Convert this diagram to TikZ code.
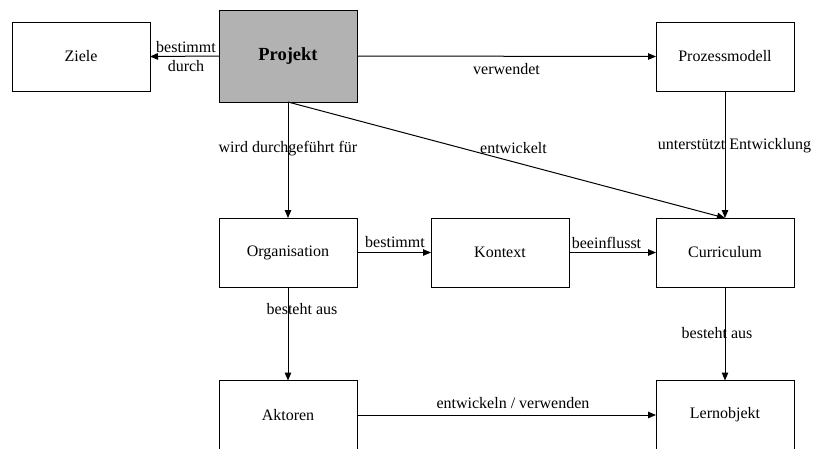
\documentclass[tikz,border=0pt]{standalone}
\usepackage{fontspec}
\setmainfont{Liberation Serif}
\usetikzlibrary{arrows.meta}

\tikzset{
  box/.style={draw=black, line width=1pt, fill=white, minimum width=138pt,
    minimum height=69pt, inner sep=0pt, outer sep=0pt,
    font=\fontsize{16}{19}\selectfont},
  mainbox/.style={box, minimum height=92pt, fill=black!30,
    font=\fontsize{18.5}{22}\selectfont\bfseries},
  conn/.style={draw=black, line width=1pt, -{Triangle[length=8pt,width=6.5pt]}},
  lbl/.style={inner sep=0pt, font=\fontsize{16}{19}\selectfont, align=center}
}

\begin{document}
\begin{tikzpicture}[x=1pt, y=-1pt]
  \useasboundingbox (0,0) rectangle (813,448);

  % boxes
  \node[box]     (ziele)   at (81,56.5)  {Ziele};
  \node[mainbox] (projekt) at (288,56)   {Projekt};
  \node[box]     (prozess) at (725,56.5) {Prozessmodell};
  \node[box]     (org)     at (288,252.5) {Organisation};
  \node[box]     (kontext) at (500,252.5) {Kontext};
  \node[box]     (curr)    at (725,252.5) {Curriculum};
  \node[box]     (akt)     at (288,415)  {Aktoren};
  \node[box]     (lern)    at (725,415)  {Lernobjekt};

  % connectors
  \draw[conn] (projekt.west) -- node[lbl, midway, xshift=1.5pt] (l1) {bestimmt\\durch} (ziele.east);
  \draw[conn] (projekt.east) -- node[lbl, midway, yshift=-13pt] (l2) {verwendet} (prozess.west);
  \draw[conn] (projekt.south) -- node[lbl, pos=0.405] (l3) {wird durchgeführt für} (org.north);
  \draw[conn] (projekt.south) -- node[lbl, pos=0.516, yshift=13.9pt] (l4) {entwickelt} (curr.north);
  \draw[conn] (prozess.south) -- node[lbl, pos=0.433, xshift=9.5pt] (l5) {unterstützt Entwicklung} (curr.north);
  \draw[conn] (org.east) -- node[lbl, midway, xshift=1pt, yshift=10pt] (l6) {bestimmt} (kontext.west);
  \draw[conn] (kontext.east) -- node[lbl, midway, xshift=-6pt, yshift=10pt] (l7) {beeinflusst} (curr.west);
  \draw[conn] (org.south) -- node[lbl, pos=0.24, xshift=14pt] (l8) {besteht aus} (akt.north);
  \draw[conn] (curr.south) -- node[lbl, pos=0.497, xshift=-8pt] (l9) {besteht aus} (lern.north);
  \draw[conn] (akt.east) -- node[lbl, midway, xshift=6.5pt, yshift=11.5pt] (l10) {entwickeln / verwenden} (lern.west);
\end{tikzpicture}
\end{document}
